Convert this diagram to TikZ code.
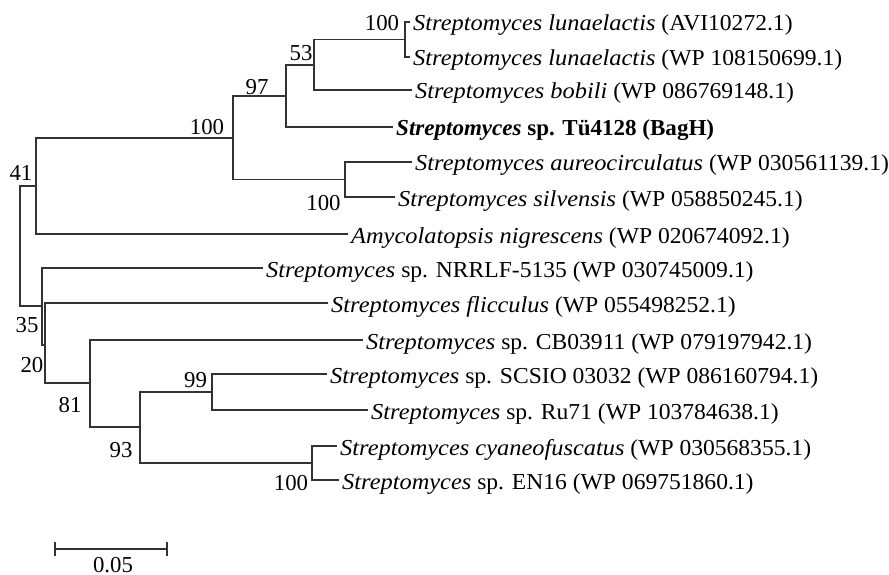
\documentclass[tikz,border=0pt]{standalone}
\usepackage{fontspec}
\setmainfont{Liberation Serif}[
    UprightFeatures={FakeStretch=1.034},
    ItalicFeatures={FakeStretch=1.07},
    BoldFeatures={FakeStretch=1.01},
    BoldItalicFeatures={FakeStretch=1.01}]
\newfontfamily\bootfont{Liberation Serif}
\usetikzlibrary{arrows.meta,positioning}
\definecolor{TreeInk}{HTML}{333333}
\newcommand{\treefont}{\fontsize{22.8}{27}\selectfont}

\begin{document}
\begin{tikzpicture}[x=1pt, y=-1pt,
    branch/.style={TreeInk, line width=1.2pt},
    leaf/.style={anchor=base west, inner sep=0pt, xshift=3pt, yshift=-9pt, font=\treefont},
    boot/.style={inner sep=0pt, font=\bootfont\treefont},
    scalebar/.style={TreeInk, line width=1.6pt}]
    \useasboundingbox (0,0) rectangle (889,575);

    % ========== INTERNAL NODES ==========
    \coordinate (root)  at (20,246);
    \coordinate (n41)   at (36,186);
    \coordinate (n100c) at (233,138);
    \coordinate (n97)   at (286,96);
    \coordinate (n53)   at (314,65);
    \coordinate (n100a) at (405,39.5);
    \coordinate (n100d) at (345,179.5);
    \coordinate (n35)   at (42,306);
    \coordinate (n20)   at (45,345);
    \coordinate (n81)   at (90,383);
    \coordinate (n93)   at (140,427);
    \coordinate (n99)   at (212,392);
    \coordinate (n100b) at (312,463);

    % ========== LEAVES ==========
    \coordinate (t1)  at (410,22);
    \coordinate (t2)  at (410,57);
    \coordinate (t3)  at (412,90);
    \coordinate (t4)  at (393,127);
    \coordinate (t5)  at (412,162);
    \coordinate (t6)  at (395,197);
    \coordinate (t7)  at (348,234);
    \coordinate (t8)  at (263,268);
    \coordinate (t9)  at (328,303);
    \coordinate (t10) at (363,340);
    \coordinate (t11) at (327,374);
    \coordinate (t12) at (368,410);
    \coordinate (t13) at (337,446);
    \coordinate (t14) at (339,480);

    \node[leaf] (s1)  at (t1)  {\textit{Streptomyces lunaelactis} (AVI10272.1)};
    \node[leaf] (s2)  at (t2)  {\textit{Streptomyces lunaelactis} (WP 108150699.1)};
    \node[leaf] (s3)  at (t3)  {\textit{Streptomyces bobili} (WP 086769148.1)};
    \node[leaf] (s4)  at (t4)  {\textbf{\textit{Streptomyces} sp. Tü4128 (BagH)}};
    \node[leaf] (s5)  at (t5)  {\textit{Streptomyces aureocirculatus} (WP 030561139.1)};
    \node[leaf] (s6)  at (t6)  {\textit{Streptomyces silvensis} (WP 058850245.1)};
    \node[leaf] (s7)  at (t7)  {\textit{Amycolatopsis nigrescens} (WP 020674092.1)};
    \node[leaf] (s8)  at (t8)  {\textit{Streptomyces} sp. NRRLF-5135 (WP 030745009.1)};
    \node[leaf] (s9)  at (t9)  {\textit{Streptomyces flicculus} (WP 055498252.1)};
    \node[leaf] (s10) at (t10) {\textit{Streptomyces} sp. CB03911 (WP 079197942.1)};
    \node[leaf] (s11) at (t11) {\textit{Streptomyces} sp. SCSIO 03032 (WP 086160794.1)};
    \node[leaf] (s12) at (t12) {\textit{Streptomyces} sp. Ru71 (WP 103784638.1)};
    \node[leaf] (s13) at (t13) {\textit{Streptomyces cyaneofuscatus} (WP 030568355.1)};
    \node[leaf] (s14) at (t14) {\textit{Streptomyces} sp. EN16 (WP 069751860.1)};

    % ========== BRANCHES ==========
    \foreach \a/\b in {root/n41, root/n35,
                       n41/n100c, n41/t7,
                       n100c/n97, n100c/n100d,
                       n97/n53, n97/t4,
                       n53/n100a, n53/t3,
                       n100a/t1, n100a/t2,
                       n100d/t5, n100d/t6,
                       n35/t8, n35/n20,
                       n20/t9, n20/n81,
                       n81/t10, n81/n93,
                       n93/n99, n93/n100b,
                       n99/t11, n99/t12,
                       n100b/t13, n100b/t14}
        \draw[branch] (\a) |- (\b);

    % Bootstrap values
    \node[boot] (b41)   at (21,172.5)  {41};
    \node[boot] (b100c) at (207,127.5) {100};
    \node[boot] (b97)   at (257,87.5)  {97};
    \node[boot] (b53)   at (301,53)    {53};
    \node[boot] (b100a) at (382,23.5)  {100};
    \node[boot] (b100d) at (323.5,203.5) {100};
    \node[boot] (b35)   at (27,325)    {35};
    \node[boot] (b20)   at (32,365)    {20};
    \node[boot] (b81)   at (70,405)    {81};
    \node[boot] (b93)   at (121,450)   {93};
    \node[boot] (b99)   at (195.5,380) {99};
    \node[boot] (b100b) at (291,483.5) {100};

    % ========== SCALE BAR ==========
    \coordinate (bar0) at (54,549);
    \coordinate (bar1) at (168,549);
    \draw[scalebar, {Bar[width=14pt]}-{Bar[width=14pt]}] (bar0) -- (bar1);
    \node[boot] (scale) at (113,565.5) {0.05};

\end{tikzpicture}
\end{document}
